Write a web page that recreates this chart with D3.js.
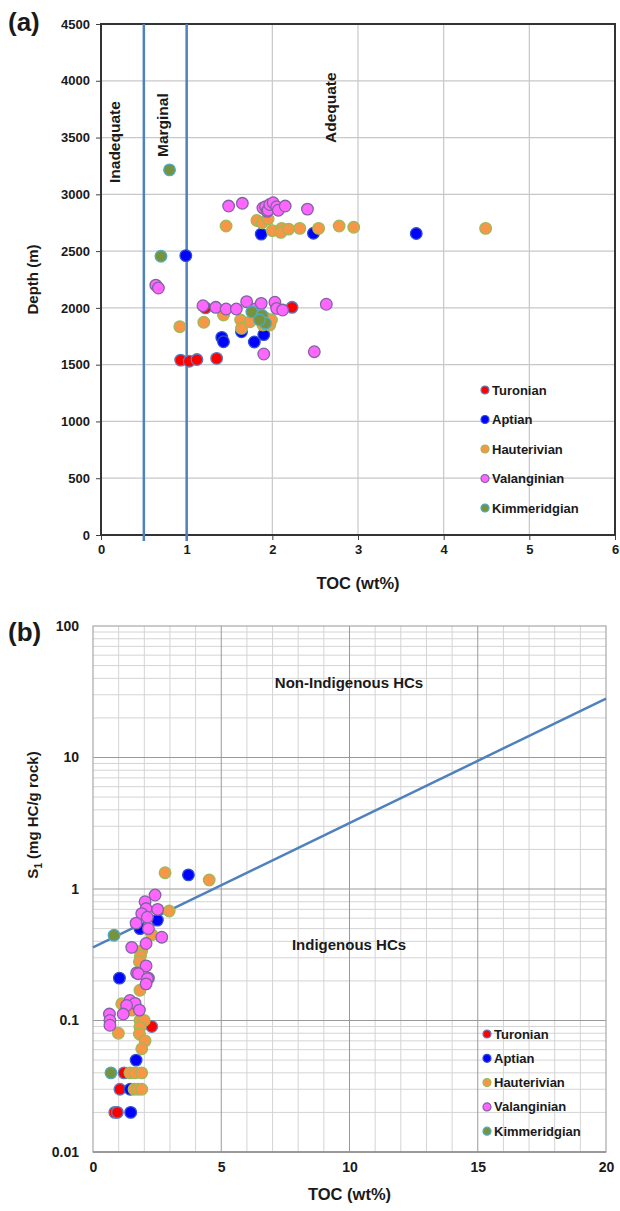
<!DOCTYPE html>
<html>
<head>
<meta charset="utf-8">
<script src="https://cdn.jsdelivr.net/npm/d3@7"></script>
<style>
body { margin: 0; background: #fff; }
text { font-family: Arial, "Liberation Sans", sans-serif; font-weight: bold; fill: #1a1a1a; }
</style>
</head>
<body>
<div id="chart"></div>
<script>
// ---- data ----
var seriesNames = ["Turonian", "Aptian", "Hauterivian", "Valanginian", "Kimmeridgian"];
var fillColors = ["#ff0000", "#0000ff", "#f79646", "#ff66ff", "#77933c"];
var strokeColors = ["#5b7fc0", "#2f4fd0", "#9bbb59", "#8064a2", "#4bacc6"];

// panel (a): [TOC wt%, depth m]
var turonianA = [[0.93,1540],[1.03,1530],[1.12,1545],[1.35,1555],[1.22,2000],[2.23,2005]];
var aptianA = [[0.99,2460],[1.87,2650],[2.48,2657],[3.68,2655],[1.41,1740],[1.43,1702],[1.64,1790],[1.79,1700],[1.90,1765]];
var hauterivianA = [[1.46,2721],[1.82,2770],[1.88,2750],[1.95,2783],[2.00,2680],[2.11,2700],[2.10,2665],[2.19,2694],[2.32,2700],[2.54,2700],[2.78,2721],[2.95,2710],[4.49,2700],
  [0.92,1835],[1.20,1873],[1.43,1937],[1.63,1893],[1.64,1820],[1.74,1878],[1.93,1908],[1.97,1849],[1.89,1849],[1.99,1893],[1.82,1960]];
var valanginianA = [[1.49,2897],[1.65,2921],[1.89,2880],[1.92,2891],[1.94,2850],[1.95,2860],[1.97,2910],[2.01,2926],[2.05,2891],[2.07,2860],[2.15,2897],[2.41,2870],
  [0.64,2200],[0.67,2175],[1.19,2019],[1.34,2005],[1.46,1990],[1.58,1990],[1.70,2055],[1.80,1990],[1.87,2040],[2.03,2050],[2.05,1996],[2.12,1981],[2.63,2032],[1.90,1594],[2.49,1614]];
var kimmeridgianA = [[0.80,3215],[0.70,2455],[1.76,1965],[1.88,1935],[1.92,1865],[1.85,1895]];

// panel (b): [TOC wt%, S1 mg HC/g rock]
var turonianB = [[2.29,0.09],[1.21,0.04],[1.05,0.03],[0.85,0.02],[0.95,0.02]];
var aptianB = [[3.72,1.28],[2.51,0.58],[1.83,0.50],[1.03,0.21],[1.68,0.05],[1.45,0.03],[1.47,0.02]];
var hauterivianB = [[2.81,1.33],[4.53,1.17],[2.97,0.68],[2.29,0.45],[1.90,0.34],[1.85,0.31],[1.81,0.28],[1.83,0.17],[1.12,0.134],[1.51,0.12],[0.99,0.08],
  [1.83,0.10],[2.00,0.10],[1.83,0.089],[1.81,0.079],[2.03,0.07],[1.90,0.061],[1.44,0.04],[1.64,0.04],[1.90,0.04],[1.60,0.03],[1.75,0.03],[1.90,0.03]];
var valanginianB = [[2.42,0.90],[2.03,0.80],[2.07,0.71],[2.52,0.70],[1.90,0.65],[2.12,0.61],[1.68,0.55],[2.16,0.50],[2.68,0.43],[2.07,0.385],[1.51,0.36],
  [2.07,0.26],[1.70,0.23],[1.77,0.227],[2.16,0.21],[2.12,0.208],[2.07,0.19],[1.44,0.142],[1.64,0.135],[1.31,0.13],[1.81,0.12],[1.18,0.112],[0.64,0.112],[0.66,0.10],[0.66,0.092]];
var kimmeridgianB = [[0.82,0.445],[0.70,0.04]];

// threshold lines
var tocLimits = [0.5, 1.0];
var fitToc = [0, 20];
var fitS1 = [0.36, 28];

// ticks
var depthTicks = [0,500,1000,1500,2000,2500,3000,3500,4000,4500];
var tocTicksA = [0,1,2,3,4,5,6];
var tocTicksB = [0,5,10,15,20];
var s1Ticks = [0.01,0.1,1,10,100];

var svg = d3.select("#chart").append("svg")
    .attr("width", 620)
    .attr("height", 1211);

// ================= panel (a) =================
var a = { left:101, right:615, top:24, bottom:535 };

var xA = d3.scaleLinear().domain([0,6]).range([a.left, a.right]);
var yA = d3.scaleLinear().domain([0,4500]).range([a.bottom, a.top]);

var gA = svg.append("g");

// grid
gA.selectAll(".vgrid").data(tocTicksA.slice(1, -1)).enter().append("line")
    .attr("x1", function(d){ return xA(d); }).attr("x2", function(d){ return xA(d); })
    .attr("y1", a.top).attr("y2", a.bottom)
    .attr("stroke", "#c8c8c8").attr("stroke-width", 1.2);
gA.selectAll(".hgrid").data(depthTicks.slice(1, -1)).enter().append("line")
    .attr("x1", a.left).attr("x2", a.right)
    .attr("y1", function(d){ return yA(d); }).attr("y2", function(d){ return yA(d); })
    .attr("stroke", "#c8c8c8").attr("stroke-width", 1.2);

// axes
var yAxisA = gA.append("g")
    .attr("transform", "translate(" + a.left + ",0)")
    .call(d3.axisLeft(yA).tickValues(depthTicks).tickFormat(d3.format("d")).tickSize(5).tickPadding(6));
var xAxisA = gA.append("g")
    .attr("transform", "translate(0," + a.bottom + ")")
    .call(d3.axisBottom(xA).tickValues(tocTicksA).tickFormat(d3.format("d")).tickSize(5).tickPadding(5));
[yAxisA, xAxisA].forEach(function(ax){
    ax.select(".domain").remove();
    ax.selectAll("line").attr("stroke", "#404040");
    ax.selectAll("text").attr("font-size", "13px").attr("fill", "#1a1a1a")
        .attr("font-family", "Arial, 'Liberation Sans', sans-serif").attr("font-weight", "bold");
});

// frame
gA.append("rect")
    .attr("x", a.left).attr("y", a.top)
    .attr("width", a.right - a.left).attr("height", a.bottom - a.top)
    .attr("fill", "none").attr("stroke", "#333").attr("stroke-width", 2);

// TOC limit lines
gA.selectAll(".limit").data(tocLimits).enter().append("line")
    .attr("x1", function(d){ return xA(d); }).attr("x2", function(d){ return xA(d); })
    .attr("y1", a.top).attr("y2", a.bottom + 6)
    .attr("stroke", "#4f81bd").attr("stroke-width", 2.5);

// zone labels
var zones = [["Inadequate", 120, 183], ["Marginal", 168, 157], ["Adequate", 336, 143]];
gA.selectAll(".zone").data(zones).enter().append("text")
    .attr("transform", function(d){ return "translate(" + d[1] + "," + d[2] + ") rotate(-90)"; })
    .attr("font-size", "15.5px")
    .text(function(d){ return d[0]; });

var dataA = [turonianA, aptianA, hauterivianA, valanginianA, kimmeridgianA];
dataA.forEach(function(pts, i){
    gA.append("g").selectAll("circle").data(pts).enter().append("circle")
        .attr("cx", function(d){ return xA(d[0]); })
        .attr("cy", function(d){ return yA(d[1]); })
        .attr("r", 5.8)
        .attr("fill", fillColors[i])
        .attr("stroke", strokeColors[i])
        .attr("stroke-width", 1.3);
});

// legend
var legA = gA.append("g").attr("transform", "translate(485,390)");
seriesNames.forEach(function(name, i){
    var row = legA.append("g").attr("transform", "translate(0," + (i * 29.5) + ")");
    row.append("circle").attr("r", 4).attr("fill", fillColors[i])
        .attr("stroke", strokeColors[i]).attr("stroke-width", 1.2);
    row.append("text").attr("x", 7).attr("dy", "0.35em").attr("font-size", "13px").text(name);
});

// titles
gA.append("text")
    .attr("x", (a.left + a.right) / 2).attr("y", 589)
    .attr("text-anchor", "middle").attr("font-size", "16.5px")
    .text("TOC (wt%)");
gA.append("text")
    .attr("transform", "translate(38," + ((a.top + a.bottom) / 2) + ") rotate(-90)")
    .attr("text-anchor", "middle").attr("font-size", "15px")
    .text("Depth (m)");
svg.append("text")
    .attr("x", 8).attr("y", 31)
    .attr("font-family", "'Liberation Serif', 'Times New Roman', serif")
    .attr("font-size", "26px")
    .text("(a)");

// ================= panel (b) =================
var b = { left:93, right:606, top:626, bottom:1152 };

var xB = d3.scaleLinear().domain([0,20]).range([b.left, b.right]);
var yB = d3.scaleLog().domain([0.01,100]).range([b.bottom, b.top]);

var gB = svg.append("g");

var vMinor = d3.range(1, 20).filter(function(d){ return d % 5 !== 0; });
var vMajor = [5, 10, 15];
var hMinor = [];
[0.01, 0.1, 1, 10].forEach(function(dec){
    for (var k = 2; k <= 9; k++) hMinor.push(dec * k);
});
var hMajor = [0.1, 1, 10];

gB.selectAll(".vminor").data(vMinor).enter().append("line")
    .attr("x1", function(d){ return xB(d); }).attr("x2", function(d){ return xB(d); })
    .attr("y1", b.top).attr("y2", b.bottom)
    .attr("stroke", "#d4d4d4").attr("stroke-width", 1);
gB.selectAll(".hminor").data(hMinor).enter().append("line")
    .attr("x1", b.left).attr("x2", b.right)
    .attr("y1", function(d){ return yB(d); }).attr("y2", function(d){ return yB(d); })
    .attr("stroke", "#d4d4d4").attr("stroke-width", 1);
gB.selectAll(".vmajor").data(vMajor).enter().append("line")
    .attr("x1", function(d){ return xB(d); }).attr("x2", function(d){ return xB(d); })
    .attr("y1", b.top).attr("y2", b.bottom)
    .attr("stroke", "#9a9a9a").attr("stroke-width", 1);
gB.selectAll(".hmajor").data(hMajor).enter().append("line")
    .attr("x1", b.left).attr("x2", b.right)
    .attr("y1", function(d){ return yB(d); }).attr("y2", function(d){ return yB(d); })
    .attr("stroke", "#9a9a9a").attr("stroke-width", 1);
gB.append("rect")
    .attr("x", b.left).attr("y", b.top)
    .attr("width", b.right - b.left).attr("height", b.bottom - b.top)
    .attr("fill", "none").attr("stroke", "#a8a8a8").attr("stroke-width", 1.2);
gB.append("line")
    .attr("x1", b.left).attr("x2", b.right).attr("y1", b.bottom).attr("y2", b.bottom)
    .attr("stroke", "#8a8a8a").attr("stroke-width", 1.5);

var yAxisB = gB.append("g")
    .attr("transform", "translate(" + b.left + ",0)")
    .call(d3.axisLeft(yB).tickValues(s1Ticks).tickFormat(function(d){ return String(d); }).tickSize(0).tickPadding(14));
var xAxisB = gB.append("g")
    .attr("transform", "translate(0," + b.bottom + ")")
    .call(d3.axisBottom(xB).tickValues(tocTicksB).tickFormat(d3.format("d")).tickSize(0).tickPadding(10));
[yAxisB, xAxisB].forEach(function(ax){
    ax.select(".domain").remove();
    ax.selectAll("text").attr("font-size", "14px").attr("fill", "#1a1a1a")
        .attr("font-family", "Arial, 'Liberation Sans', sans-serif").attr("font-weight", "bold");
});

// fit line separating indigenous / non-indigenous
var fitLine = d3.line()
    .x(function(d){ return xB(d[0]); })
    .y(function(d){ return yB(d[1]); });
gB.append("path")
    .datum(fitToc.map(function(t, i){ return [t, fitS1[i]]; }))
    .attr("d", fitLine)
    .attr("fill", "none").attr("stroke", "#4f81bd").attr("stroke-width", 2.5);

gB.append("text").attr("x", 349).attr("y", 688)
    .attr("text-anchor", "middle").attr("font-size", "15px").text("Non-Indigenous HCs");
gB.append("text").attr("x", 349).attr("y", 950)
    .attr("text-anchor", "middle").attr("font-size", "15px").text("Indigenous HCs");

var dataB = [turonianB, aptianB, hauterivianB, valanginianB, kimmeridgianB];
dataB.forEach(function(pts, i){
    gB.append("g").selectAll("circle").data(pts).enter().append("circle")
        .attr("cx", function(d){ return xB(d[0]); })
        .attr("cy", function(d){ return yB(d[1]); })
        .attr("r", 5.8)
        .attr("fill", fillColors[i])
        .attr("stroke", strokeColors[i])
        .attr("stroke-width", 1.3);
});

var legB = gB.append("g").attr("transform", "translate(487,1034)");
seriesNames.forEach(function(name, i){
    var row = legB.append("g").attr("transform", "translate(0," + (i * 24.3) + ")");
    row.append("circle").attr("r", 4).attr("fill", fillColors[i])
        .attr("stroke", strokeColors[i]).attr("stroke-width", 1.2);
    row.append("text").attr("x", 7).attr("dy", "0.35em").attr("font-size", "13px").text(name);
});

gB.append("text")
    .attr("x", (b.left + b.right) / 2).attr("y", 1200)
    .attr("text-anchor", "middle").attr("font-size", "16.5px")
    .text("TOC (wt%)");
var s1Label = gB.append("text")
    .attr("transform", "translate(38,815) rotate(-90)")
    .attr("text-anchor", "middle").attr("font-size", "15px");
s1Label.append("tspan").text("S");
s1Label.append("tspan").attr("font-size", "10px").attr("dy", "4").text("1");
s1Label.append("tspan").attr("dy", "-4").text(" (mg HC/g rock)");

svg.append("text")
    .attr("x", 8).attr("y", 641)
    .attr("font-family", "'Liberation Serif', 'Times New Roman', serif")
    .attr("font-size", "26px")
    .text("(b)");
</script>
</body>
</html>
